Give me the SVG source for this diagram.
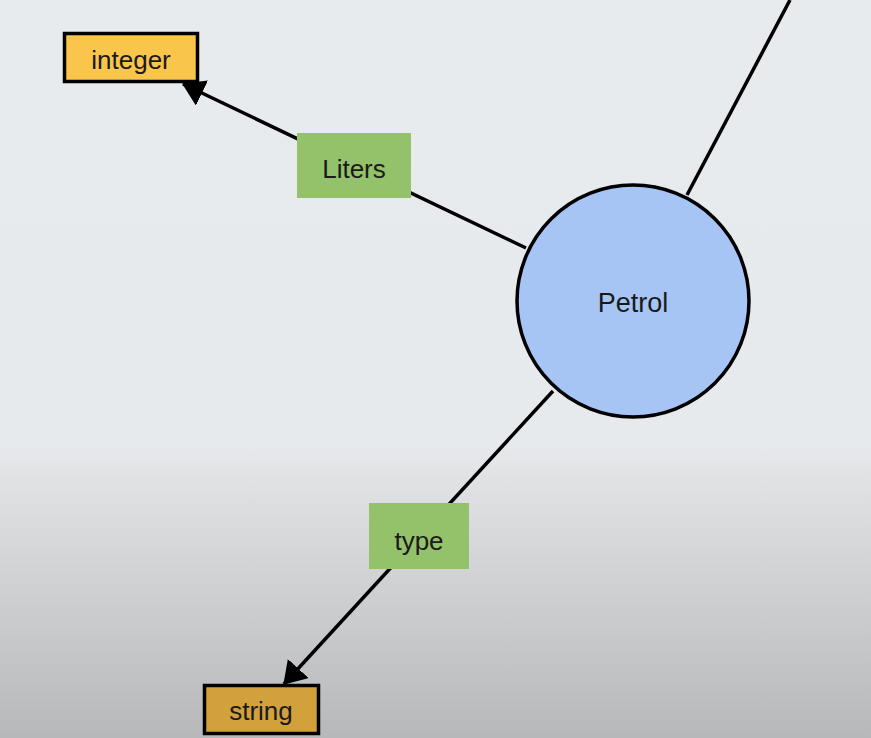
<svg xmlns="http://www.w3.org/2000/svg" width="871" height="738" viewBox="0 0 871 738">
<style>
.edge{stroke:#000;stroke-width:3.5;fill:none}
.box{stroke:#000;stroke-width:3.5}
.lbl{fill:#93c26a}
.t{font-family:"Liberation Sans",Arial,sans-serif;font-size:26px;fill:#1a1a1a;text-anchor:middle}
</style>
<defs>
<linearGradient id="bg" x1="0" y1="0" x2="0" y2="738" gradientUnits="userSpaceOnUse">
<stop offset="0" stop-color="#e8ebee"/>
<stop offset="0.6" stop-color="#e7eaed"/>
<stop offset="0.64" stop-color="#e2e3e5"/>
<stop offset="1" stop-color="#b6b8ba"/>
</linearGradient>
<marker id="arr" viewBox="0 0 22 28" refX="21" refY="14" markerWidth="22" markerHeight="28" markerUnits="userSpaceOnUse" orient="auto">
<path d="M0,0 L22,14 L0,28 z" fill="#000"/>
</marker>
</defs>
<rect x="0" y="0" width="871" height="738" fill="url(#bg)"/>
<g id="connectors">
<line class="edge" x1="526" y1="248" x2="183" y2="84" marker-end="url(#arr)"/>
<line class="edge" x1="553" y1="391" x2="284" y2="684" marker-end="url(#arr)"/>
<line class="edge" x1="687" y1="195" x2="790" y2="0"/>
</g>
<g id="label-liters">
<rect class="lbl" x="297" y="133" width="114" height="65"/>
<text class="t" x="354" y="178">Liters</text>
</g>
<g id="label-type">
<rect class="lbl" x="369" y="503" width="100" height="66"/>
<text class="t" x="419" y="550">type</text>
</g>
<g id="node-petrol">
<circle cx="633" cy="301" r="116" fill="#a6c5f5" stroke="#000" stroke-width="3.5"/>
<text class="t" x="633" y="312" style="font-size:27px">Petrol</text>
</g>
<g id="node-integer">
<rect class="box" x="64.5" y="33.5" width="133" height="48" fill="#f9c54b"/>
<text class="t" x="131" y="69">integer</text>
</g>
<g id="node-string">
<rect class="box" x="204.5" y="685.5" width="114" height="48" fill="#d2a13b"/>
<text class="t" x="261" y="720">string</text>
</g>
</svg>
